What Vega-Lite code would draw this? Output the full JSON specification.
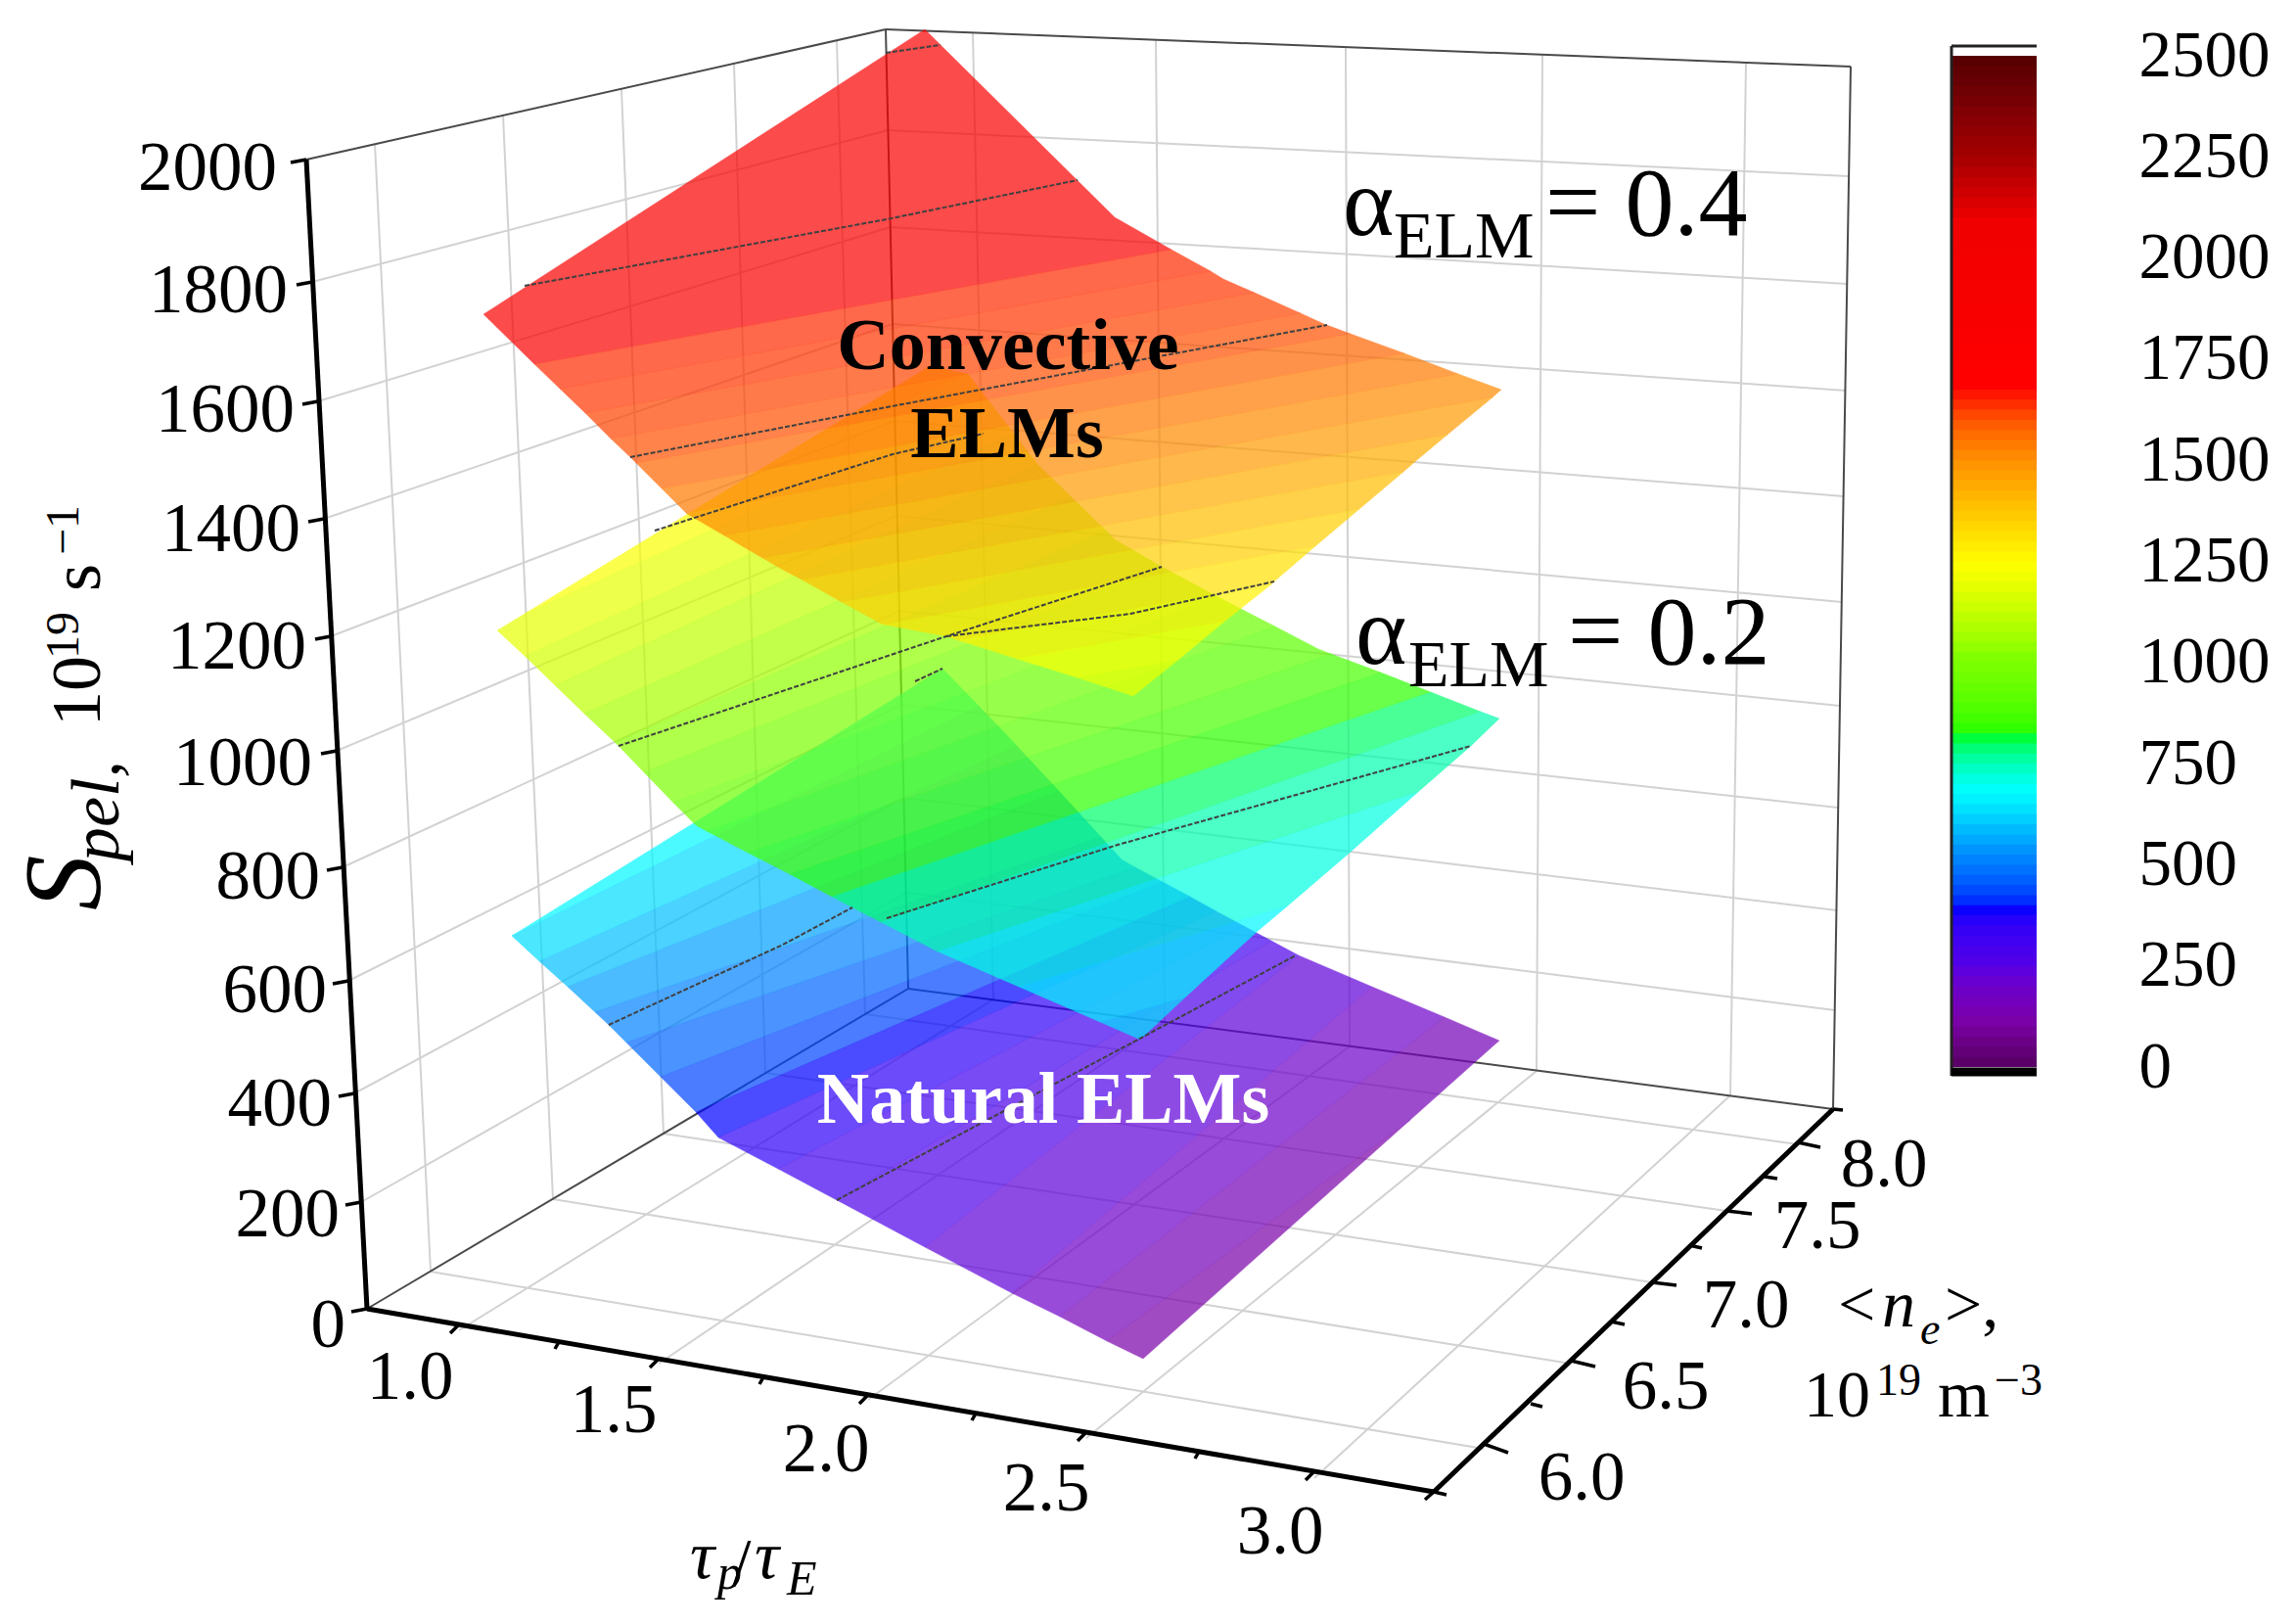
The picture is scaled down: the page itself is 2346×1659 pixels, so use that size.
{
"$schema":"https://vega.github.io/schema/vega-lite/v6.json",
"width":2346,"height":1659,"padding":0,"autosize":{"type":"none"},"background":"white",
"config":{"view":{"stroke":null},"text":{"font":"Liberation Serif"}},
"resolve":{"scale":{"y":"independent"}},
"layer":[
{"encoding":{
 "x":{"field":"sx","type":"quantitative","scale":{"domain":[0,2346],"range":[0,2346]},"axis":null},
 "y":{"field":"sy","type":"quantitative","scale":{"domain":[0,1659],"range":[0,1659]},"axis":null},
 "x2":{"field":"ex"},"y2":{"field":"ey"}},
 "layer":[
 {"mark":{"type":"rule","stroke":"#d2d2d2","strokeWidth":2},
  "data":{"values":[
  {"sx":469,"sy":1359,"ex":1015,"ey":1021},{"sx":673,"sy":1393,"ex":1190,"ey":1044},{"sx":887,"sy":1430,"ex":1379,"ey":1069},{"sx":1110,"sy":1469,"ex":1570,"ey":1094},{"sx":1343,"sy":1510,"ex":1768,"ey":1119},
  {"sx":1516,"sy":1480,"ex":440,"ey":1299},{"sx":1605,"sy":1393,"ex":565,"ey":1225},{"sx":1688,"sy":1310,"ex":678,"ey":1158},{"sx":1764,"sy":1237,"ex":782,"ey":1096},{"sx":1837,"sy":1169,"ex":884,"ey":1036},
  {"sx":440,"sy":1299,"ex":383,"ey":147},{"sx":565,"sy":1225,"ex":514,"ey":118},{"sx":678,"sy":1158,"ex":635,"ey":91},{"sx":782,"sy":1096,"ex":750,"ey":65},{"sx":884,"sy":1036,"ex":855,"ey":42},
  {"sx":1015,"sy":1021,"ex":994,"ey":33},{"sx":1190,"sy":1044,"ex":1181,"ey":40},{"sx":1379,"sy":1069,"ex":1375,"ey":48},{"sx":1570,"sy":1094,"ex":1576,"ey":56},{"sx":1768,"sy":1119,"ex":1784,"ey":64},
  {"sx":319,"sy":288,"ex":907,"ey":133},{"sx":325,"sy":410,"ex":910,"ey":232},{"sx":331,"sy":530,"ex":912,"ey":331},{"sx":338,"sy":650,"ex":914,"ey":430},{"sx":344,"sy":767,"ex":916,"ey":527},{"sx":350,"sy":886,"ex":919,"ey":624},{"sx":356,"sy":1002,"ex":921,"ey":720},{"sx":362,"sy":1117,"ex":923,"ey":815},{"sx":369,"sy":1228,"ex":926,"ey":912},
  {"sx":907,"sy":133,"ex":1889,"ey":180},{"sx":910,"sy":232,"ex":1887,"ey":290},{"sx":912,"sy":331,"ex":1886,"ey":399},{"sx":914,"sy":430,"ex":1884,"ey":507},{"sx":916,"sy":527,"ex":1882,"ey":615},{"sx":919,"sy":624,"ex":1880,"ey":721},{"sx":921,"sy":720,"ex":1878,"ey":825},{"sx":923,"sy":815,"ex":1877,"ey":930},{"sx":926,"sy":912,"ex":1875,"ey":1032}
  ]}},
 {"mark":{"type":"rule","stroke":"#4a4a4a","strokeWidth":2},
  "data":{"values":[
  {"sx":313,"sy":163,"ex":905,"ey":30},{"sx":905,"sy":30,"ex":1891,"ey":68},{"sx":905,"sy":30,"ex":928,"ey":1010},{"sx":1891,"sy":68,"ex":1873,"ey":1133},{"sx":375,"sy":1337,"ex":928,"ey":1010},{"sx":928,"sy":1010,"ex":1873,"ey":1133}
  ]}}
 ]},
{"mark":{"type":"geoshape","opacity":0.7,"strokeWidth":0.4},
 "projection":{"type":"identity","scale":1,"translate":[0,0]},
 "data":{"format":{"type":"json"},"values":[
 {"type":"Feature","properties":{"S":660},"geometry":{"type":"Polygon","coordinates":[[[963,683],[1000,721],[523,956],[963,683]]]}},
 {"type":"Feature","properties":{"S":620},"geometry":{"type":"Polygon","coordinates":[[[523,956],[1000,721],[1028,750],[1039,762],[551,982],[523,956]]]}},
 {"type":"Feature","properties":{"S":580},"geometry":{"type":"Polygon","coordinates":[[[551,982],[1039,762],[1082,808],[580,1008],[551,982]]]}},
 {"type":"Feature","properties":{"S":540},"geometry":{"type":"Polygon","coordinates":[[[580,1008],[1082,808],[1125,855],[608,1034],[580,1008]]]}},
 {"type":"Feature","properties":{"S":500},"geometry":{"type":"Polygon","coordinates":[[[608,1034],[1125,855],[1146,878],[1160,886],[640,1065],[622,1047],[608,1034]]]}},
 {"type":"Feature","properties":{"S":460},"geometry":{"type":"Polygon","coordinates":[[[640,1065],[1160,886],[1188,901],[675,1100],[640,1065]]]}},
 {"type":"Feature","properties":{"S":420},"geometry":{"type":"Polygon","coordinates":[[[675,1100],[1188,901],[1216,916],[711,1136],[675,1100]]]}},
 {"type":"Feature","properties":{"S":380},"geometry":{"type":"Polygon","coordinates":[[[711,1136],[1216,916],[1243,931],[734,1162],[711,1136]]]}},
 {"type":"Feature","properties":{"S":340},"geometry":{"type":"Polygon","coordinates":[[[734,1162],[1243,931],[1271,946],[795,1194],[734,1162]]]}},
 {"type":"Feature","properties":{"S":300},"geometry":{"type":"Polygon","coordinates":[[[795,1194],[1271,946],[1299,961],[855,1226],[795,1194]]]}},
 {"type":"Feature","properties":{"S":260},"geometry":{"type":"Polygon","coordinates":[[[855,1226],[1299,961],[1327,976],[945,1274],[855,1226]]]}},
 {"type":"Feature","properties":{"S":220},"geometry":{"type":"Polygon","coordinates":[[[945,1274],[1327,976],[1402,1008],[1034,1321],[945,1274]]]}},
 {"type":"Feature","properties":{"S":180},"geometry":{"type":"Polygon","coordinates":[[[1034,1321],[1402,1008],[1476,1039],[1083,1345],[1034,1321]]]}},
 {"type":"Feature","properties":{"S":140},"geometry":{"type":"Polygon","coordinates":[[[1083,1345],[1476,1039],[1532,1063],[1441,1144],[1131,1370],[1083,1345]]]}},
 {"type":"Feature","properties":{"S":105},"geometry":{"type":"Polygon","coordinates":[[[1131,1370],[1441,1144],[1168,1388],[1131,1370]]]}},

 {"type":"Feature","properties":{"S":1250},"geometry":{"type":"Polygon","coordinates":[[[950,374],[989,382],[812,458],[950,374]]]}},
 {"type":"Feature","properties":{"S":1220},"geometry":{"type":"Polygon","coordinates":[[[812,458],[989,382],[1013,413],[536,627],[812,458]]]}},
 {"type":"Feature","properties":{"S":1180},"geometry":{"type":"Polygon","coordinates":[[[536,627],[1013,413],[1036,443],[536,670],[508,644],[536,627]]]}},
 {"type":"Feature","properties":{"S":1140},"geometry":{"type":"Polygon","coordinates":[[[536,670],[1036,443],[1060,474],[567,700],[536,670]]]}},
 {"type":"Feature","properties":{"S":1100},"geometry":{"type":"Polygon","coordinates":[[[567,700],[1060,474],[1095,508],[597,729],[567,700]]]}},
 {"type":"Feature","properties":{"S":1060},"geometry":{"type":"Polygon","coordinates":[[[597,729],[1095,508],[1130,542],[628,758],[597,729]]]}},
 {"type":"Feature","properties":{"S":1020},"geometry":{"type":"Polygon","coordinates":[[[628,758],[1130,542],[1139,551],[1187,579],[658,789],[632,762],[628,758]]]}},
 {"type":"Feature","properties":{"S":980},"geometry":{"type":"Polygon","coordinates":[[[658,789],[1187,579],[1245,610],[688,820],[658,789]]]}},
 {"type":"Feature","properties":{"S":940},"geometry":{"type":"Polygon","coordinates":[[[688,820],[1245,610],[1303,640],[722,849],[711,843],[688,820]]]}},
 {"type":"Feature","properties":{"S":900},"geometry":{"type":"Polygon","coordinates":[[[722,849],[1303,640],[1347,663],[1360,668],[764,871],[722,849]]]}},
 {"type":"Feature","properties":{"S":860},"geometry":{"type":"Polygon","coordinates":[[[764,871],[1360,668],[1411,687],[807,893],[764,871]]]}},
 {"type":"Feature","properties":{"S":820},"geometry":{"type":"Polygon","coordinates":[[[807,893],[1411,687],[1462,707],[850,916],[807,893]]]}},
 {"type":"Feature","properties":{"S":780},"geometry":{"type":"Polygon","coordinates":[[[850,916],[1462,707],[1513,727],[900,942],[871,927],[850,916]]]}},
 {"type":"Feature","properties":{"S":740},"geometry":{"type":"Polygon","coordinates":[[[900,942],[1513,727],[1532,734],[1503,762],[1449,809],[958,972],[900,942]]]}},
 {"type":"Feature","properties":{"S":700},"geometry":{"type":"Polygon","coordinates":[[[958,972],[1449,809],[1378,872],[1315,926],[1041,1008],[958,972]]]}},
 {"type":"Feature","properties":{"S":660},"geometry":{"type":"Polygon","coordinates":[[[1041,1008],[1315,926],[1283,953],[1212,1018],[1124,1044],[1041,1008]]]}},
 {"type":"Feature","properties":{"S":630},"geometry":{"type":"Polygon","coordinates":[[[1124,1044],[1212,1018],[1165,1062],[1124,1044]]]}},

 {"type":"Feature","properties":{"S":1750},"geometry":{"type":"Polygon","coordinates":[[[945,30],[1139,222],[1197,255],[546,372],[494,321],[945,30]]]}},
 {"type":"Feature","properties":{"S":1630},"geometry":{"type":"Polygon","coordinates":[[[546,372],[1197,255],[1237,277],[572,397],[546,372]]]}},
 {"type":"Feature","properties":{"S":1618},"geometry":{"type":"Polygon","coordinates":[[[572,397],[1237,277],[1250,285],[1282,299],[598,422],[572,397]]]}},
 {"type":"Feature","properties":{"S":1605},"geometry":{"type":"Polygon","coordinates":[[[598,422],[1282,299],[1329,320],[624,448],[598,422]]]}},
 {"type":"Feature","properties":{"S":1590},"geometry":{"type":"Polygon","coordinates":[[[624,448],[1329,320],[1353,331],[1380,341],[650,473],[644,467],[624,448]]]}},
 {"type":"Feature","properties":{"S":1560},"geometry":{"type":"Polygon","coordinates":[[[650,473],[1380,341],[1435,361],[676,499],[650,473]]]}},
 {"type":"Feature","properties":{"S":1530},"geometry":{"type":"Polygon","coordinates":[[[676,499],[1435,361],[1490,382],[701,524],[676,499]]]}},
 {"type":"Feature","properties":{"S":1497},"geometry":{"type":"Polygon","coordinates":[[[701,524],[1490,382],[1534,398],[1525,406],[740,547],[702,525],[701,524]]]}},
 {"type":"Feature","properties":{"S":1460},"geometry":{"type":"Polygon","coordinates":[[[740,547],[1525,406],[1479,444],[779,570],[740,547]]]}},
 {"type":"Feature","properties":{"S":1420},"geometry":{"type":"Polygon","coordinates":[[[779,570],[1479,444],[1449,469],[1434,482],[819,592],[798,581],[779,570]]]}},
 {"type":"Feature","properties":{"S":1380},"geometry":{"type":"Polygon","coordinates":[[[819,592],[1434,482],[1389,520],[860,615],[819,592]]]}},
 {"type":"Feature","properties":{"S":1340},"geometry":{"type":"Polygon","coordinates":[[[860,615],[1389,520],[1344,558],[903,638],[900,637],[860,615]]]}},
 {"type":"Feature","properties":{"S":1300},"geometry":{"type":"Polygon","coordinates":[[[903,638],[1344,558],[1302,594],[1299,597],[979,654],[967,650],[903,638]]]}},
 {"type":"Feature","properties":{"S":1260},"geometry":{"type":"Polygon","coordinates":[[[979,654],[1299,597],[1251,635],[1039,673],[979,654]]]}},
 {"type":"Feature","properties":{"S":1225},"geometry":{"type":"Polygon","coordinates":[[[1039,673],[1251,635],[1204,674],[1100,692],[1039,673]]]}},
 {"type":"Feature","properties":{"S":1195},"geometry":{"type":"Polygon","coordinates":[[[1100,692],[1204,674],[1158,711],[1100,692]]]}}
 ]},
 "encoding":{"color":{"field":"properties.S","type":"quantitative","legend":null,
  "scale":{"domain":[0,100,250,380,520,670,760,810,1000,1231,1486,1622,1660,2080,2250,2500],"range":["#5a0068","#7a00a8","#5000e8","#0000ff","#0090ff","#00ffff","#00ff90","#20ff00","#80ff00","#ffff00","#ff9000","#ff3000","#ff0000","#f00000","#a00000","#500000"]}},
 "stroke":{"field":"properties.S","type":"quantitative","legend":null,
  "scale":{"domain":[0,100,250,380,520,670,760,810,1000,1231,1486,1622,1660,2080,2250,2500],"range":["#5a0068","#7a00a8","#5000e8","#0000ff","#0090ff","#00ffff","#00ff90","#20ff00","#80ff00","#ffff00","#ff9000","#ff3000","#ff0000","#f00000","#a00000","#500000"]}}}},
{"encoding":{
 "x":{"field":"sx","type":"quantitative","scale":{"domain":[0,2346],"range":[0,2346]},"axis":null},
 "y":{"field":"sy","type":"quantitative","scale":{"domain":[0,1659],"range":[0,1659]},"axis":null}},
 "layer":[
 {"mark":{"type":"line","stroke":"#404040","strokeWidth":2,"strokeDash":[5,2],"interpolate":"linear"},
  "encoding":{"detail":{"field":"id"},"order":{"field":"k"}},
  "data":{"values":[
  {"id":"a","k":1,"sx":536,"sy":292},{"id":"a","k":2,"sx":906,"sy":224},{"id":"a","k":3,"sx":1101,"sy":184},
  {"id":"b","k":1,"sx":644,"sy":467},{"id":"b","k":2,"sx":906,"sy":416},{"id":"b","k":3,"sx":1356,"sy":332},
  {"id":"c","k":1,"sx":905,"sy":54},{"id":"c","k":2,"sx":961,"sy":46},
  {"id":"d","k":1,"sx":669,"sy":542},{"id":"d","k":2,"sx":912,"sy":464},{"id":"d","k":3,"sx":1005,"sy":443},
  {"id":"e","k":1,"sx":632,"sy":762},{"id":"e","k":2,"sx":967,"sy":650},{"id":"e","k":3,"sx":1187,"sy":579},
  {"id":"f","k":1,"sx":967,"sy":650},{"id":"f","k":2,"sx":1155,"sy":627},{"id":"f","k":3,"sx":1302,"sy":594},
  {"id":"g","k":1,"sx":935,"sy":696},{"id":"g","k":2,"sx":963,"sy":683},
  {"id":"h","k":1,"sx":622,"sy":1047},{"id":"h","k":2,"sx":800,"sy":965},{"id":"h","k":3,"sx":871,"sy":927},
  {"id":"i","k":1,"sx":906,"sy":938},{"id":"i","k":2,"sx":1142,"sy":863},{"id":"i","k":3,"sx":1503,"sy":762},
  {"id":"j","k":1,"sx":855,"sy":1226},{"id":"j","k":2,"sx":1324,"sy":976}
  ]}},
 {"mark":{"type":"rule","stroke":"black","strokeWidth":5},
  "encoding":{"x2":{"field":"ex"},"y2":{"field":"ey"}},
  "data":{"values":[{"sx":313,"sy":163,"ex":375,"ey":1337},{"sx":375,"sy":1337,"ex":1465,"ey":1524},{"sx":1465,"sy":1524,"ex":1873,"ey":1133}]}},
 {"mark":{"type":"rule","stroke":"black","strokeWidth":3.5},
  "encoding":{"x2":{"field":"ex"},"y2":{"field":"ey"}},
  "data":{"values":[
  {"sx":313,"sy":163,"ex":297,"ey":166},{"sx":319,"sy":288,"ex":303,"ey":291},{"sx":325,"sy":410,"ex":309,"ey":413},{"sx":331,"sy":530,"ex":315,"ey":533},{"sx":338,"sy":650,"ex":322,"ey":653},{"sx":344,"sy":767,"ex":328,"ey":770},{"sx":350,"sy":886,"ex":334,"ey":889},{"sx":356,"sy":1002,"ex":340,"ey":1005},{"sx":362,"sy":1117,"ex":346,"ey":1120},{"sx":369,"sy":1228,"ex":353,"ey":1231},{"sx":375,"sy":1337,"ex":359,"ey":1340},
  {"sx":469,"sy":1353,"ex":460,"ey":1362},{"sx":673,"sy":1388,"ex":664,"ey":1397},{"sx":887,"sy":1425,"ex":878,"ey":1434},{"sx":1110,"sy":1463,"ex":1101,"ey":1472},{"sx":1343,"sy":1503,"ex":1334,"ey":1512},
  {"sx":571,"sy":1371,"ex":567,"ey":1378},{"sx":780,"sy":1407,"ex":776,"ey":1414},{"sx":997,"sy":1444,"ex":993,"ey":1451},{"sx":1225,"sy":1483,"ex":1221,"ey":1490},{"sx":1465,"sy":1524,"ex":1456,"ey":1532},
  {"sx":1516,"sy":1475,"ex":1541,"ey":1484},{"sx":1605,"sy":1390,"ex":1630,"ey":1396},{"sx":1688,"sy":1310,"ex":1713,"ey":1313},{"sx":1764,"sy":1237,"ex":1790,"ey":1240},{"sx":1837,"sy":1167,"ex":1860,"ey":1172},
  {"sx":1564,"sy":1434,"ex":1576,"ey":1437},{"sx":1646,"sy":1350,"ex":1660,"ey":1353},{"sx":1726,"sy":1272,"ex":1739,"ey":1275},{"sx":1803,"sy":1202,"ex":1816,"ey":1204},{"sx":1873,"sy":1133,"ex":1883,"ey":1134},{"sx":1465,"sy":1524,"ex":1478,"ey":1527}
  ]}}
 ]},
{"mark":{"type":"rect"},
 "data":{"values":[
 {"S":0,"S2":30},{"S":25,"S2":55},{"S":50,"S2":80},{"S":75,"S2":105},{"S":100,"S2":130},{"S":125,"S2":155},{"S":150,"S2":180},{"S":175,"S2":205},{"S":200,"S2":230},{"S":225,"S2":255},
 {"S":250,"S2":280},{"S":275,"S2":305},{"S":300,"S2":330},{"S":325,"S2":355},{"S":350,"S2":380},{"S":375,"S2":405},{"S":400,"S2":430},{"S":425,"S2":455},{"S":450,"S2":480},{"S":475,"S2":505},
 {"S":500,"S2":530},{"S":525,"S2":555},{"S":550,"S2":580},{"S":575,"S2":605},{"S":600,"S2":630},{"S":625,"S2":655},{"S":650,"S2":680},{"S":675,"S2":705},{"S":700,"S2":730},{"S":725,"S2":755},
 {"S":750,"S2":780},{"S":775,"S2":805},{"S":800,"S2":830},{"S":825,"S2":855},{"S":850,"S2":880},{"S":875,"S2":905},{"S":900,"S2":930},{"S":925,"S2":955},{"S":950,"S2":980},{"S":975,"S2":1005},
 {"S":1000,"S2":1030},{"S":1025,"S2":1055},{"S":1050,"S2":1080},{"S":1075,"S2":1105},{"S":1100,"S2":1130},{"S":1125,"S2":1155},{"S":1150,"S2":1180},{"S":1175,"S2":1205},{"S":1200,"S2":1230},{"S":1225,"S2":1255},
 {"S":1250,"S2":1280},{"S":1275,"S2":1305},{"S":1300,"S2":1330},{"S":1325,"S2":1355},{"S":1350,"S2":1380},{"S":1375,"S2":1405},{"S":1400,"S2":1430},{"S":1425,"S2":1455},{"S":1450,"S2":1480},{"S":1475,"S2":1505},
 {"S":1500,"S2":1530},{"S":1525,"S2":1555},{"S":1550,"S2":1580},{"S":1575,"S2":1605},{"S":1600,"S2":1630},{"S":1625,"S2":1655},{"S":1650,"S2":1680},{"S":1675,"S2":1705},{"S":1700,"S2":1730},{"S":1725,"S2":1755},
 {"S":1750,"S2":1780},{"S":1775,"S2":1805},{"S":1800,"S2":1830},{"S":1825,"S2":1855},{"S":1850,"S2":1880},{"S":1875,"S2":1905},{"S":1900,"S2":1930},{"S":1925,"S2":1955},{"S":1950,"S2":1980},{"S":1975,"S2":2005},
 {"S":2000,"S2":2030},{"S":2025,"S2":2055},{"S":2050,"S2":2080},{"S":2075,"S2":2105},{"S":2100,"S2":2130},{"S":2125,"S2":2155},{"S":2150,"S2":2180},{"S":2175,"S2":2205},{"S":2200,"S2":2230},{"S":2225,"S2":2255},
 {"S":2250,"S2":2280},{"S":2275,"S2":2305},{"S":2300,"S2":2330},{"S":2325,"S2":2355},{"S":2350,"S2":2380},{"S":2375,"S2":2405},{"S":2400,"S2":2430},{"S":2425,"S2":2455},{"S":2450,"S2":2480},{"S":2475,"S2":2500}
 ]},
 "encoding":{
  "x":{"datum":1995,"type":"quantitative","scale":{"domain":[0,2346],"range":[0,2346]},"axis":null},
  "x2":{"datum":2081},
  "y":{"field":"S","type":"quantitative","scale":{"domain":[0,2500],"range":[1090,57]},
   "axis":{"orient":"right","offset":-161,"values":[0,250,500,750,1000,1250,1500,1750,2000,2250,2500],"format":"d","domain":false,"ticks":false,"grid":false,"title":null,"labelPadding":0,"labelOverlap":false,"labelBound":false,"labelFlush":false,"labelFont":"Liberation Serif","labelFontSize":67,"labelColor":"black"}},
  "y2":{"field":"S2"},
  "color":{"field":"S","type":"quantitative","legend":null,
  "scale":{"domain":[0,100,250,380,520,670,760,810,1000,1231,1486,1622,1660,2080,2250,2500],"range":["#5a0068","#7a00a8","#5000e8","#0000ff","#0090ff","#00ffff","#00ff90","#20ff00","#80ff00","#ffff00","#ff9000","#ff3000","#ff0000","#f00000","#a00000","#500000"]}}}},
{"encoding":{
 "x":{"field":"sx","type":"quantitative","scale":{"domain":[0,2346],"range":[0,2346]},"axis":null},
 "y":{"field":"sy","type":"quantitative","scale":{"domain":[0,1659],"range":[0,1659]},"axis":null}},
 "layer":[
 {"mark":{"type":"rule","stroke":"#222222","strokeWidth":3},
  "encoding":{"x2":{"field":"ex"},"y2":{"field":"ey"}},
  "data":{"values":[{"sx":1994,"sy":47,"ex":2081,"ey":47},{"sx":1994,"sy":47,"ex":1994,"ey":1099}]}},
 {"mark":{"type":"rule","stroke":"black","strokeWidth":9},
  "encoding":{"x2":{"field":"ex"},"y2":{"field":"ey"}},
  "data":{"values":[{"sx":1994,"sy":1095,"ex":2081,"ey":1095}]}},
 {"mark":{"type":"text","align":"right","baseline":"alphabetic","fontSize":71,"font":"Liberation Serif","fill":"black"},
  "encoding":{"text":{"field":"t"}},
  "data":{"values":[{"t":"2000","sx":283,"sy":194},{"t":"1800","sx":294,"sy":319},{"t":"1600","sx":301,"sy":441},{"t":"1400","sx":307,"sy":563},{"t":"1200","sx":313,"sy":683},{"t":"1000","sx":319,"sy":802},{"t":"800","sx":327,"sy":918},{"t":"600","sx":334,"sy":1034},{"t":"400","sx":339,"sy":1150},{"t":"200","sx":347,"sy":1263},{"t":"0","sx":353,"sy":1376}]}},
 {"mark":{"type":"text","align":"center","baseline":"alphabetic","fontSize":71,"font":"Liberation Serif","fill":"black"},
  "encoding":{"text":{"field":"t"}},
  "data":{"values":[{"t":"1.0","sx":419,"sy":1429},{"t":"1.5","sx":627,"sy":1463},{"t":"2.0","sx":844,"sy":1503},{"t":"2.5","sx":1069,"sy":1543},{"t":"3.0","sx":1308,"sy":1587},{"t":"6.0","sx":1616,"sy":1532},{"t":"6.5","sx":1702,"sy":1439},{"t":"7.0","sx":1784,"sy":1356},{"t":"7.5","sx":1857,"sy":1275},{"t":"8.0","sx":1925,"sy":1212}]}},
 {"mark":{"type":"text","align":"left","baseline":"alphabetic","font":"Liberation Serif","fill":"black"},
  "encoding":{"text":{"field":"t"},"size":{"field":"fs","type":"quantitative","scale":null}},
  "data":{"values":[
  {"t":"α","sx":1372,"sy":240,"fs":100},{"t":"ELM","sx":1424,"sy":263,"fs":68},{"t":"= 0.4","sx":1579,"sy":240,"fs":100},
  {"t":"α","sx":1385,"sy":678,"fs":100},{"t":"ELM","sx":1439,"sy":701,"fs":68},{"t":"= 0.2","sx":1602,"sy":678,"fs":100},
  {"t":"<","sx":1878,"sy":1355,"fs":68},{"t":">,","sx":1987,"sy":1355,"fs":68},
  {"t":"10","sx":1843,"sy":1447,"fs":68},{"t":"19","sx":1917,"sy":1425,"fs":46},{"t":"m","sx":1980,"sy":1447,"fs":68},{"t":"−3","sx":2038,"sy":1425,"fs":46},
  {"t":"/","sx":748,"sy":1620,"fs":70}
  ]}},
 {"mark":{"type":"text","align":"left","baseline":"alphabetic","font":"Liberation Serif","fontStyle":"italic","fill":"black"},
  "encoding":{"text":{"field":"t"},"size":{"field":"fs","type":"quantitative","scale":null}},
  "data":{"values":[
  {"t":"n","sx":1923,"sy":1355,"fs":68},{"t":"e","sx":1962,"sy":1373,"fs":46},
  {"t":"τ","sx":705,"sy":1612,"fs":70},{"t":"p","sx":733,"sy":1623,"fs":50},{"t":"τ","sx":771,"sy":1612,"fs":70},{"t":"E","sx":804,"sy":1629,"fs":50}
  ]}},
 {"mark":{"type":"text","align":"center","baseline":"alphabetic","font":"Liberation Serif","fontWeight":"bold","fontSize":74,"fill":"black"},
  "encoding":{"text":{"field":"t"}},
  "data":{"values":[{"t":"Convective","sx":1030,"sy":377},{"t":"ELMs","sx":1029,"sy":467}]}},
 {"mark":{"type":"text","align":"center","baseline":"alphabetic","font":"Liberation Serif","fontWeight":"bold","fontSize":74,"fill":"white"},
  "encoding":{"text":{"field":"t"}},
  "data":{"values":[{"t":"Natural ELMs","sx":1066,"sy":1147}]}},
 {"mark":{"type":"text","align":"left","baseline":"alphabetic","font":"Liberation Serif","angle":270,"fill":"black"},
  "encoding":{"text":{"field":"t"},"size":{"field":"fs","type":"quantitative","scale":null}},
  "data":{"values":[{"t":"10","sx":102,"sy":742,"fs":72},{"t":"19","sx":80,"sy":673,"fs":48},{"t":"s","sx":102,"sy":604,"fs":72},{"t":"−1","sx":80,"sy":567,"fs":48}]}},
 {"mark":{"type":"text","align":"left","baseline":"alphabetic","font":"Liberation Serif","fontStyle":"italic","angle":270,"fill":"black"},
  "encoding":{"text":{"field":"t"},"size":{"field":"fs","type":"quantitative","scale":null}},
  "data":{"values":[{"t":"S","sx":102,"sy":930,"fs":113},{"t":"pel,","sx":121,"sy":880,"fs":70}]}}
 ]}
]
}
